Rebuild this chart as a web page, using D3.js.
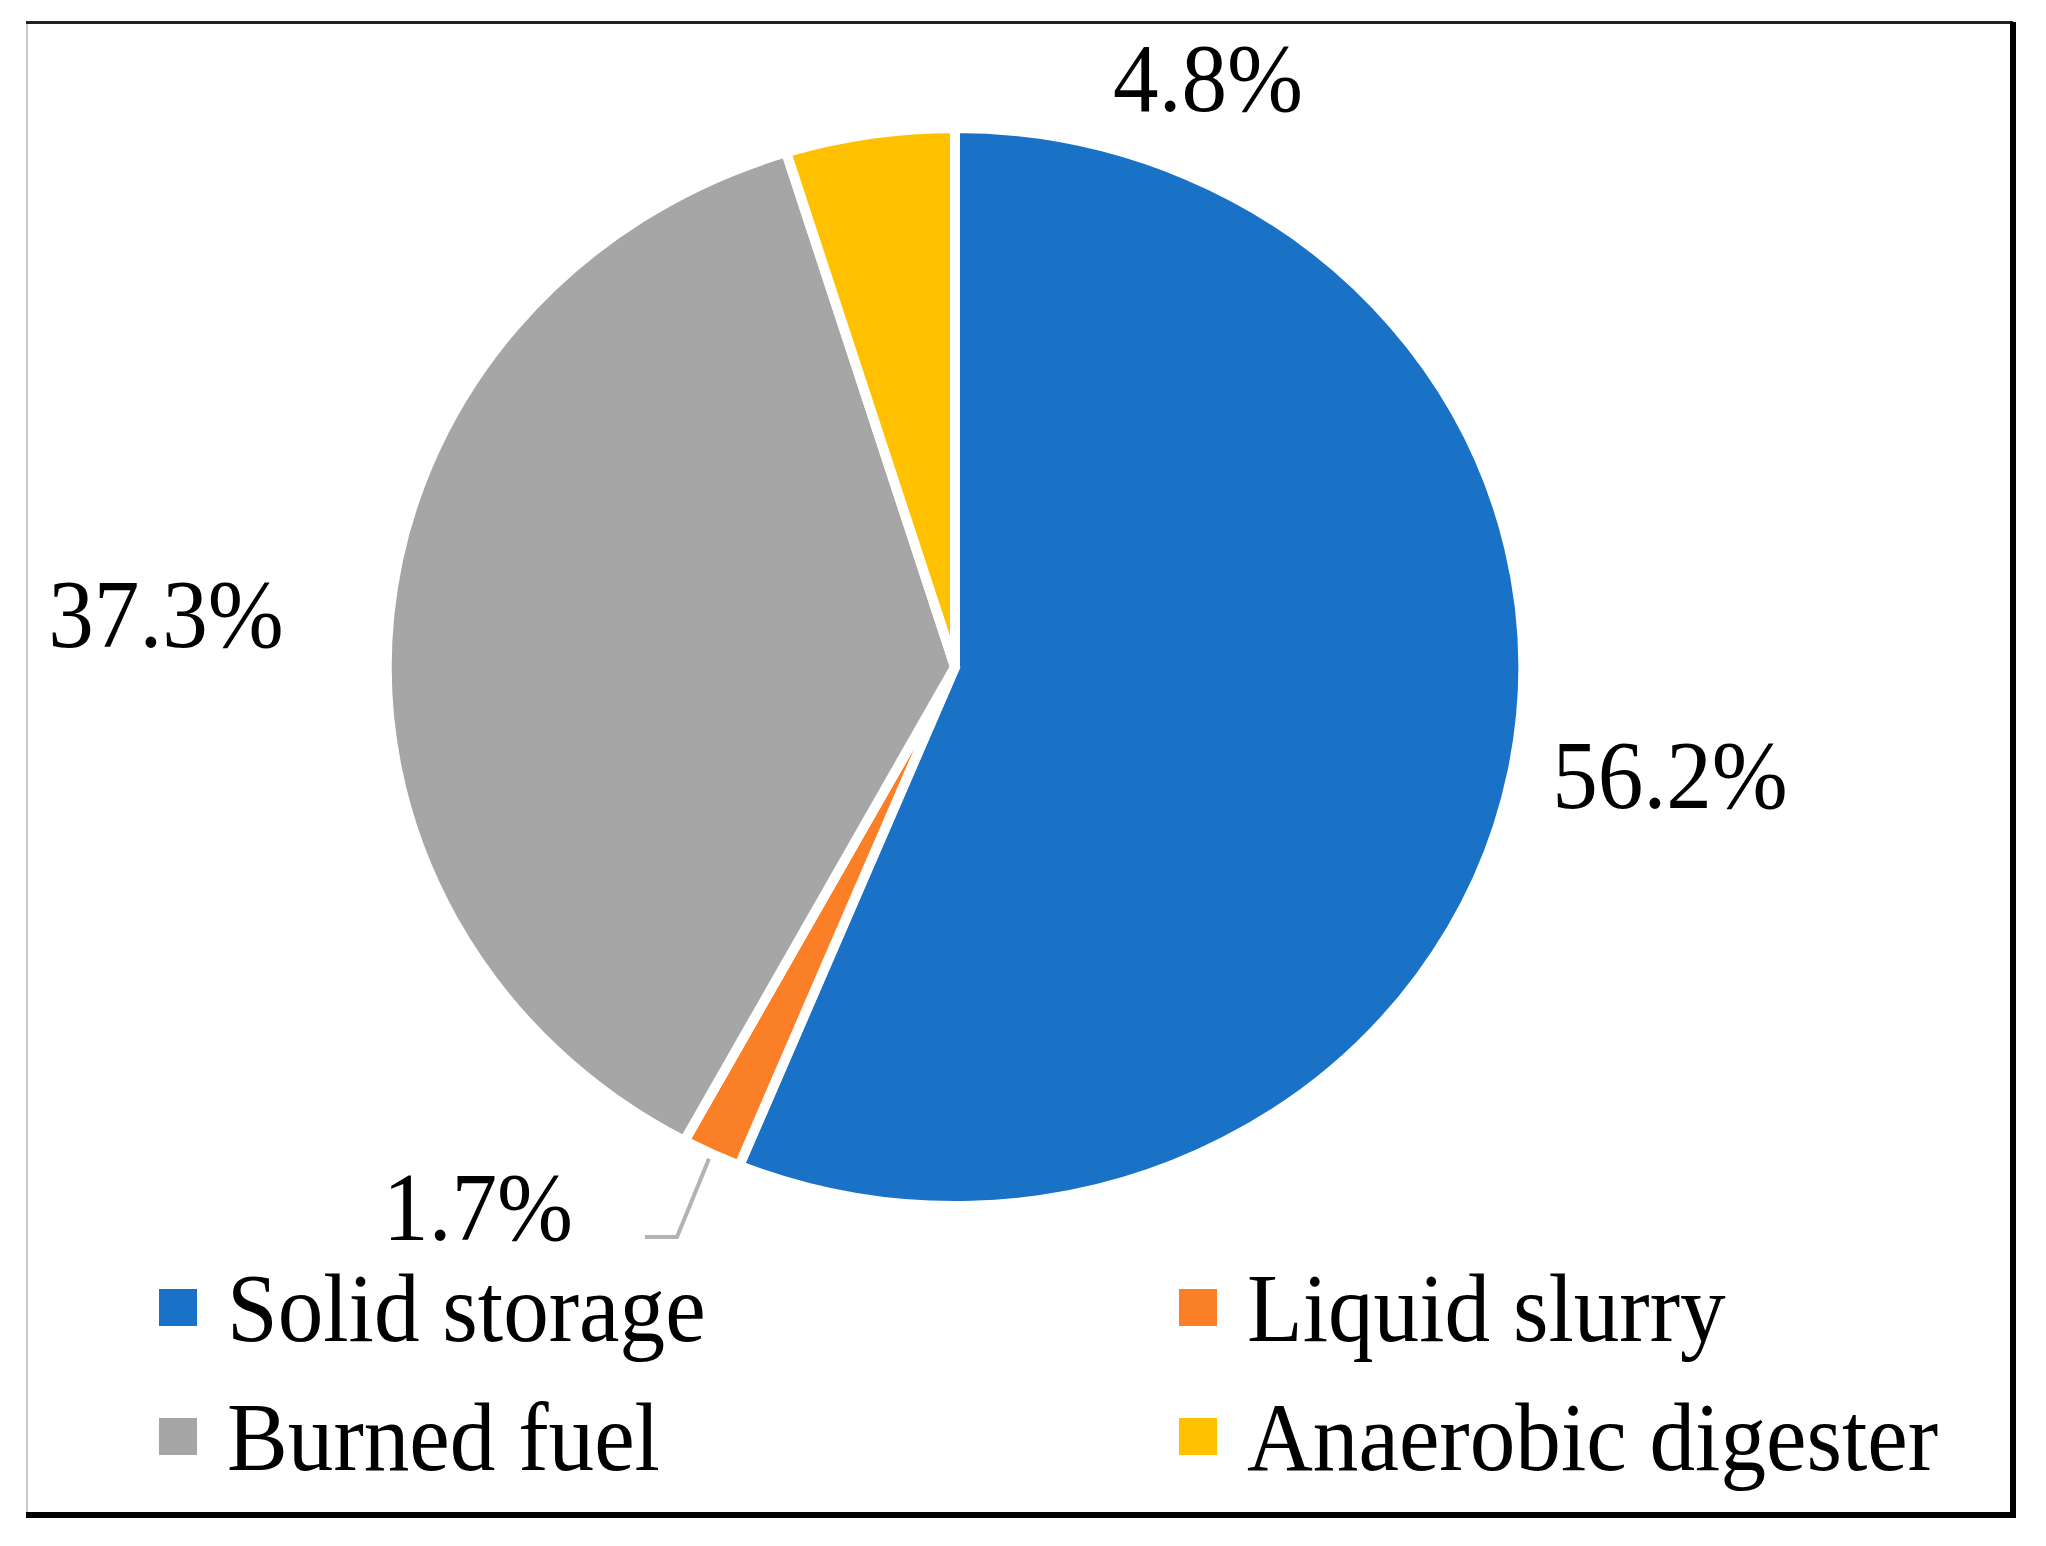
<!DOCTYPE html>
<html>
<head>
<meta charset="utf-8">
<script src="https://cdn.jsdelivr.net/npm/d3@7"></script>
<style>
  body { margin: 0; background: #fff; }
  text { font-family: "Liberation Serif", "Times New Roman", serif; fill: #000; }
</style>
</head>
<body>
<div id="chart"></div>
<script>
// Chart data
const categories = ["Solid storage", "Liquid slurry", "Burned fuel", "Anaerobic digester"];
const shares = [56.2, 1.7, 37.3, 4.8];
const labels = ["56.2%", "1.7%", "37.3%", "4.8%"];
const colors = ["#1A72C7", "#FB7F26", "#A6A6A6", "#FFC000"];

// Layout
const width = 2046, height = 1546;
const cx = 955, cy = 667;
const radius = 539;            // path radius (white stroke eats ~5px)
const stretchX = 563 / 534;    // the pie is a little wider than tall
const fontSize = 97;
const squeeze = 0.94;          // glyphs are slightly narrow in the original

// where each data label sits (text centre x, baseline y)
const labelAt = {
    "Solid storage": [1670, 808],
    "Liquid slurry": [478, 1240],
    "Burned fuel": [166, 647],
    "Anaerobic digester": [1208, 111]
};

const svg = d3.select('#chart')
    .append('svg')
    .attr('width', width)
    .attr('height', height);

svg.append('rect')
    .attr('width', width)
    .attr('height', height)
    .attr('fill', '#fff');

// Frame: light left, dark top, heavy right/bottom
svg.append('line').attr('x1', 27).attr('y1', 22).attr('x2', 27).attr('y2', 1515)
    .attr('stroke', '#c8c8c8').attr('stroke-width', 2);
svg.append('line').attr('x1', 26).attr('y1', 22.5).attr('x2', 2013).attr('y2', 22.5)
    .attr('stroke', '#222').attr('stroke-width', 3);
svg.append('line').attr('x1', 26).attr('y1', 1515).attr('x2', 2016).attr('y2', 1515)
    .attr('stroke', '#000').attr('stroke-width', 6);
svg.append('line').attr('x1', 2013).attr('y1', 22).attr('x2', 2013).attr('y2', 1518)
    .attr('stroke', '#000').attr('stroke-width', 6);

const data = categories.map((c, i) => ({ name: c, value: shares[i], label: labels[i], color: colors[i] }));

const pie = d3.pie().sort(null).value(d => d.value);
const arcs = pie(data);

const arc = d3.arc().innerRadius(0).outerRadius(radius);

// Pie slices
const pieG = svg.append('g')
    .attr('transform', `translate(${cx},${cy}) scale(${stretchX},1)`);

pieG.selectAll('path')
    .data(arcs)
    .enter()
    .append('path')
    .attr('d', arc)
    .attr('fill', d => d.data.color)
    .attr('stroke', '#fff')
    .attr('stroke-width', 10)
    .attr('stroke-linejoin', 'miter')
    .attr('vector-effect', 'non-scaling-stroke');

// Leader line for the small slice
const small = arcs.find(d => d.data.name === "Liquid slurry");
const mid = (small.startAngle + small.endAngle) / 2;
const r0 = radius * 1.01;
const start = [cx + Math.sin(mid) * r0 * stretchX, cy - Math.cos(mid) * r0];
const lab = labelAt["Liquid slurry"];
svg.append('path')
    .attr('d', d3.line()([start, [677, lab[1] - 3], [645, lab[1] - 3]]))
    .attr('fill', 'none')
    .attr('stroke', '#b3b3b3')
    .attr('stroke-width', 4);

// Data labels
svg.selectAll('.data-label')
    .data(arcs)
    .enter()
    .append('text')
    .attr('class', 'data-label')
    .attr('text-anchor', 'middle')
    .attr('transform', d => {
        const p = labelAt[d.data.name];
        return `translate(${p[0]},${p[1]}) scale(${squeeze},1)`;
    })
    .style('font-size', fontSize + 'px')
    .text(d => d.data.label);

// Legend
const legendX = [159, 1179];
const legendY = [1307, 1436];
const legend = svg.selectAll('.legend')
    .data(data)
    .enter()
    .append('g')
    .attr('class', 'legend')
    .attr('transform', (d, i) => `translate(${legendX[i % 2]},${legendY[Math.floor(i / 2)]})`);

legend.append('rect')
    .attr('x', 0)
    .attr('y', -18)
    .attr('width', 38)
    .attr('height', 37)
    .attr('fill', d => d.color);

legend.append('text')
    .attr('transform', `translate(68,34) scale(${squeeze},1)`)
    .style('font-size', fontSize + 'px')
    .text(d => d.name);
</script>
</body>
</html>
